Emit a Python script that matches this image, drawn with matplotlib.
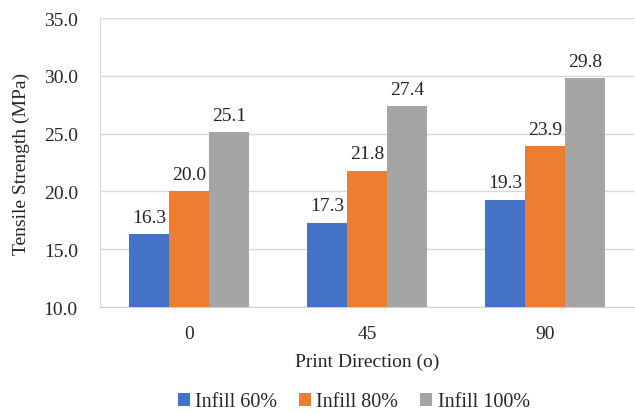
import matplotlib.pyplot as plt
import numpy as np

plt.rcParams['font.family'] = ['Liberation Serif', 'DejaVu Serif']

directions = ['0', '45', '90']
series = ['Infill 60%', 'Infill 80%', 'Infill 100%']
infill_60 = [16.3, 17.3, 19.3]
infill_80 = [20.0, 21.8, 23.9]
infill_100 = [25.1, 27.4, 29.8]
colors = ['#4472C4', '#ED7D31', '#A5A5A5']

fig = plt.figure(figsize=(6.35, 4.14), dpi=100)
ax = fig.add_axes([0.1575, 0.256, 0.841, 0.698])

x = np.arange(len(directions))
w = 0.224
for i, (vals, name) in enumerate(zip([infill_60, infill_80, infill_100], series)):
    pos = x + (i - 1) * w
    ax.bar(pos, [v - 10 for v in vals], w, bottom=10, color=colors[i],
           label=name, zorder=3)
    for p, v in zip(pos, vals):
        ax.annotate('%.1f' % v, (p, v), xytext=(0, 6), textcoords='offset points',
                    ha='center', va='bottom', fontsize=14, color='#262626')

ax.set_xlim(-0.5, 2.5)
ax.set_ylim(10, 35)
ax.set_yticks(np.arange(10, 36, 5))
ax.set_yticklabels(['%.1f' % t for t in np.arange(10, 36, 5)])
ax.set_xticks(x)
ax.set_xticklabels(directions)
ax.tick_params(length=0, labelsize=14, colors='#262626')
ax.tick_params(axis='y', pad=16)
ax.tick_params(axis='x', pad=13)
ax.grid(axis='y', color='#D9D9D9', linewidth=1, zorder=0)
for s in ['top', 'right']:
    ax.spines[s].set_visible(False)
ax.spines['bottom'].set_color('#D0D0D0')
ax.spines['left'].set_color('#D9D9D9')

ax.set_xlabel('Print Direction (o)', fontsize=14, color='#262626', labelpad=8)
ax.set_ylabel('Tensile Strength (MPa)', fontsize=14, color='#262626', labelpad=10)

fig.legend(loc='center', bbox_to_anchor=(0.557, 0.027), ncol=3, frameon=False,
           fontsize=14.5, handlelength=0.6, handleheight=0.6, handletextpad=0.25,
           columnspacing=1.1, labelcolor='#262626')

plt.savefig('out.png', dpi=100)
